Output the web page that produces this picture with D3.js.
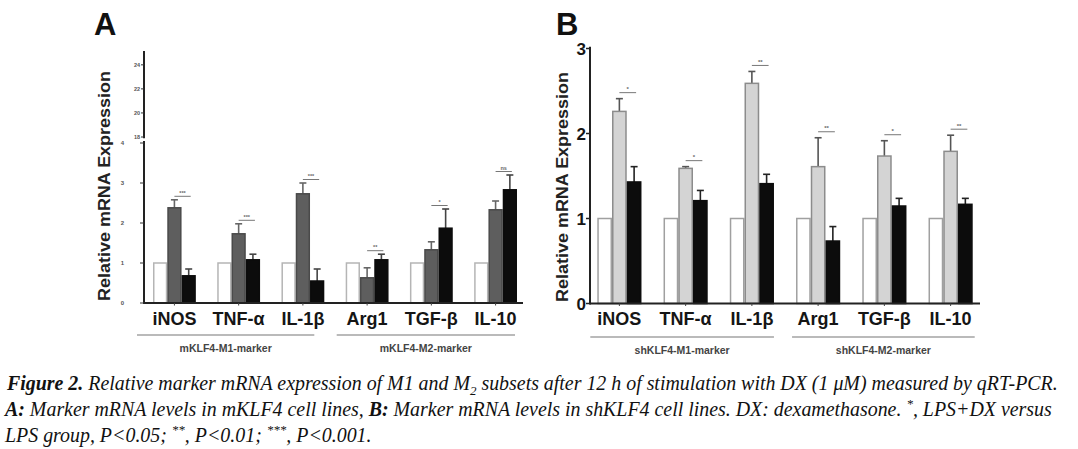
<!DOCTYPE html>
<html>
<head>
<meta charset="utf-8">
<script src="https://cdn.jsdelivr.net/npm/d3@7"></script>
<style>
  html, body { margin: 0; padding: 0; background: #fff; }
  svg { display: block; }
</style>
</head>
<body>
<svg id="chart" width="1078" height="449"></svg>
<script>
// ---------- data ----------
const categories = ["iNOS", "TNF-α", "IL-1β", "Arg1", "TGF-β", "IL-10"];
const seriesNames = ["Control", "LPS", "LPS+DX"];

// Panel A (mKLF4)
const ctrlA   = [1, 1, 1, 1, 1, 1];
const lpsA    = [2.38, 1.73, 2.73, 0.63, 1.33, 2.33];
const lpsErrA = [0.20, 0.25, 0.27, 0.25, 0.20, 0.22];
const dxA     = [0.68, 1.08, 0.55, 1.08, 1.87, 2.83];
const dxErrA  = [0.17, 0.14, 0.30, 0.14, 0.48, 0.37];
const sigA    = ["***", "***", "***", "**", "*", "ns"];
const yTicksA_low  = [0, 1, 2, 3, 4];
const yTicksA_high = [18, 20, 22, 24];
const groupLabelsA = ["mKLF4-M1-marker", "mKLF4-M2-marker"];

// Panel B (shKLF4)
const ctrlB   = [1, 1, 1, 1, 1, 1];
const lpsB    = [2.26, 1.59, 2.59, 1.61, 1.735, 1.79];
const lpsErrB = [0.15, 0.02, 0.14, 0.34, 0.18, 0.19];
const dxB     = [1.43, 1.21, 1.41, 0.735, 1.147, 1.167];
const dxErrB  = [0.18, 0.12, 0.11, 0.17, 0.09, 0.07];
const sigB    = ["*", "*", "**", "**", "*", "**"];
const yTicksB = [0, 1, 2, 3];
const groupLabelsB = ["shKLF4-M1-marker", "shKLF4-M2-marker"];

const yLabel = "Relative mRNA Expression";

// ---------- drawing ----------
const svg = d3.select("#chart");
svg.append("rect").attr("width", 1078).attr("height", 449).attr("fill", "#fff");

function panel(opts) {
  const g = svg.append("g");
  const x = d3.scaleBand().domain(categories)
    .range(opts.xRange).paddingInner(0.333).paddingOuter(opts.padOuter);
  const sub = d3.scaleBand().domain(seriesNames).range([0, x.bandwidth()]);
  const y = opts.y;
  const rows = categories.map((c, i) => ({
    cat: c,
    vals: [
      { s: "Control", v: opts.ctrl[i], e: 0 },
      { s: "LPS", v: opts.lps[i], e: opts.lpsErr[i] },
      { s: "LPS+DX", v: opts.dx[i], e: opts.dxErr[i] }
    ],
    sig: opts.sig[i]
  }));

  const grp = g.selectAll("g.cat").data(rows).join("g")
    .attr("transform", d => `translate(${x(d.cat)},0)`);

  // error bars (upper only)
  grp.selectAll("g.err").data(d => d.vals.filter(v => v.e > 0)).join("g")
    .each(function (d) {
      const cx = sub(d.s) + sub.bandwidth() / 2;
      const sel = d3.select(this);
      const col = d.s === "LPS" ? opts.errLps : opts.errDx;
      sel.append("line").attr("x1", cx).attr("x2", cx)
        .attr("y1", y(d.v)).attr("y2", y(d.v + d.e))
        .attr("stroke", col).attr("stroke-width", 1.6);
      sel.append("line").attr("x1", cx - 3.5).attr("x2", cx + 3.5)
        .attr("y1", y(d.v + d.e)).attr("y2", y(d.v + d.e))
        .attr("stroke", col).attr("stroke-width", 1.6);
    });

  // bars
  grp.selectAll("rect").data(d => d.vals).join("rect")
    .attr("x", d => sub(d.s) + 0.75)
    .attr("width", sub.bandwidth() - 1.5)
    .attr("y", d => y(d.v))
    .attr("height", d => y(0) - y(d.v))
    .attr("fill", d => opts.fill[d.s])
    .attr("stroke", d => opts.stroke[d.s])
    .attr("stroke-width", 1.5);

  // significance marks
  grp.each(function (d) {
    const top = Math.max(d.vals[1].v + d.vals[1].e, d.vals[2].v + d.vals[2].e);
    const ly = y(top) - opts.sigGap;
    const x1 = sub("LPS") + sub.bandwidth() / 2;
    const x2 = sub("LPS+DX") + sub.bandwidth() / 2 + 2;
    const sel = d3.select(this);
    sel.append("line").attr("x1", x1).attr("x2", x2).attr("y1", ly).attr("y2", ly)
      .attr("stroke", "#777").attr("stroke-width", 1);
    sel.append("text").attr("x", (x1 + x2) / 2).attr("y", ly - 1.5)
      .attr("text-anchor", "middle").attr("font-family", "Liberation Sans, Arial, sans-serif")
      .attr("font-size", opts.sigSize).attr("font-weight", "bold").attr("fill", "#666")
      .text(d.sig);
  });

  // x axis baseline
  const base = y(0);
  g.append("line").attr("x1", opts.xRange[0]).attr("x2", opts.axisEnd)
    .attr("y1", base).attr("y2", base).attr("stroke", "#222").attr("stroke-width", 2);
  // small ticks under group centers
  g.selectAll("line.xt").data(categories).join("line")
    .attr("x1", d => x(d) + x.bandwidth() / 2).attr("x2", d => x(d) + x.bandwidth() / 2)
    .attr("y1", base).attr("y2", base + 2.5).attr("stroke", "#444").attr("stroke-width", 1);

  // category labels
  g.selectAll("text.cat").data(categories).join("text")
    .attr("x", d => x(d) + x.bandwidth() / 2).attr("y", 325)
    .attr("text-anchor", "middle")
    .attr("font-family", "Liberation Sans, Arial, sans-serif")
    .attr("font-weight", "bold").attr("font-size", 18).attr("fill", "#151515")
    .text(d => d);

  // group lines and labels
  const groups = [[0, 2], [3, 5]];
  groups.forEach((gr, i) => {
    const xs = x(categories[gr[0]]) + opts.lineOff[i][0];
    const xe = x(categories[gr[1]]) + x.bandwidth() + opts.lineOff[i][1];
    g.append("line").attr("x1", xs).attr("x2", xe)
      .attr("y1", opts.lineY).attr("y2", opts.lineY).attr("stroke", "#777").attr("stroke-width", 1.2);
    g.append("text").attr("x", (xs + xe) / 2 + opts.labOff).attr("y", opts.lineY + 17)
      .attr("text-anchor", "middle")
      .attr("font-family", "Liberation Sans, Arial, sans-serif")
      .attr("font-weight", "bold").attr("font-size", 10.5).attr("fill", "#444")
      .text(opts.groupLabels[i]);
  });

  // y label
  g.append("text")
    .attr("transform", `translate(${opts.yLabelX},${opts.yLabelY}) rotate(-90)`)
    .attr("text-anchor", "middle")
    .attr("font-family", "Liberation Sans, Arial, sans-serif")
    .attr("font-weight", "bold").attr("font-size", 16).attr("fill", "#222")
    .attr("textLength", 230).attr("lengthAdjust", "spacingAndGlyphs")
    .text(yLabel);

  // panel letter
  g.append("text").attr("x", opts.letterX).attr("y", 35)
    .attr("font-family", "Liberation Sans, Arial, sans-serif")
    .attr("font-weight", "bold").attr("font-size", 31).attr("fill", "#111")
    .text(opts.letter);
  return { g, x, y };
}

// ---------- Panel A ----------
const yA = d3.scaleLinear().domain([0, 4]).range([303, 143]);
const yAhigh = d3.scaleLinear().domain([18, 25.15]).range([137, 51]);
const pA = panel({
  xRange: [144, 526], padOuter: 0.14, axisEnd: 523,
  y: yA, ctrl: ctrlA, lps: lpsA, lpsErr: lpsErrA, dx: dxA, dxErr: dxErrA, sig: sigA,
  fill: { "Control": "#ffffff", "LPS": "#5e5e5e", "LPS+DX": "#0c0c0c" },
  stroke: { "Control": "#b5b5b5", "LPS": "#4a4a4a", "LPS+DX": "#0c0c0c" },
  errLps: "#666", errDx: "#444", sigGap: 3.5, sigSize: 5.5,
  lineY: 335, lineOff: [[-16, -10], [-9, -2]], labOff: 0, groupLabels: groupLabelsA,
  yLabelX: 110, yLabelY: 186, letter: "A", letterX: 94
});
// Panel A broken y axis
{
  const g = pA.g;
  const ax = 144;
  g.append("line").attr("x1", ax).attr("x2", ax).attr("y1", yA(0) + 1).attr("y2", yA(4.05))
    .attr("stroke", "#222").attr("stroke-width", 2);
  g.append("line").attr("x1", ax).attr("x2", ax).attr("y1", yAhigh(17.9)).attr("y2", yAhigh(25.15))
    .attr("stroke", "#222").attr("stroke-width", 2);
  g.selectAll("line.yl").data(yTicksA_low).join("line")
    .attr("x1", ax - 4).attr("x2", ax).attr("y1", d => yA(d)).attr("y2", d => yA(d))
    .attr("stroke", "#333").attr("stroke-width", 1);
  g.selectAll("text.yl").data(yTicksA_low).join("text")
    .attr("x", 124).attr("y", d => yA(d) + 2).attr("text-anchor", "end")
    .attr("font-family", "Liberation Sans, Arial, sans-serif").attr("font-size", 6)
    .attr("font-weight", "bold").attr("fill", "#555").text(d => d);
  g.selectAll("line.yh").data(yTicksA_high).join("line")
    .attr("x1", ax - 3).attr("x2", ax).attr("y1", d => yAhigh(d)).attr("y2", d => yAhigh(d))
    .attr("stroke", "#333").attr("stroke-width", 1);
  g.selectAll("text.yh").data(yTicksA_high).join("text")
    .attr("x", ax - 4).attr("y", d => yAhigh(d) + 2).attr("text-anchor", "end")
    .attr("font-family", "Liberation Sans, Arial, sans-serif").attr("font-size", 5.5)
    .attr("font-weight", "bold").attr("fill", "#555").text(d => d);
}

// ---------- Panel B ----------
const yB = d3.scaleLinear().domain([0, 3]).range([303.5, 48.5]);
const pB = panel({
  xRange: [590, 980], padOuter: 0.11, axisEnd: 980,
  y: yB, ctrl: ctrlB, lps: lpsB, lpsErr: lpsErrB, dx: dxB, dxErr: dxErrB, sig: sigB,
  fill: { "Control": "#ffffff", "LPS": "#d4d4d4", "LPS+DX": "#0c0c0c" },
  stroke: { "Control": "#a0a0a0", "LPS": "#8c8c8c", "LPS+DX": "#0c0c0c" },
  errLps: "#555", errDx: "#222", sigGap: 6, sigSize: 6,
  lineY: 337, lineOff: [[-7, 0], [-4, 2]], labOff: 0, groupLabels: groupLabelsB,
  yLabelX: 568, yLabelY: 187, letter: "B", letterX: 556
});
{
  const g = pB.g;
  const ax = 590;
  g.append("line").attr("x1", ax).attr("x2", ax).attr("y1", yB(0) + 1).attr("y2", yB(3.02))
    .attr("stroke", "#222").attr("stroke-width", 2);
  g.selectAll("line.yt").data(yTicksB).join("line")
    .attr("x1", ax - 4).attr("x2", ax).attr("y1", d => yB(d)).attr("y2", d => yB(d))
    .attr("stroke", "#222").attr("stroke-width", 1.5);
  g.selectAll("text.yt").data(yTicksB).join("text")
    .attr("x", ax - 4).attr("y", d => yB(d) + 6).attr("text-anchor", "end")
    .attr("font-family", "Liberation Sans, Arial, sans-serif").attr("font-size", 17)
    .attr("font-weight", "bold").attr("fill", "#151515").text(d => d);
}

// ---------- Caption ----------
const cap = svg.append("text")
  .attr("font-family", "Liberation Serif, Times New Roman, serif")
  .attr("font-style", "italic").attr("font-size", 19.9).attr("fill", "#111");
const l1 = cap.append("tspan").attr("x", 7).attr("y", 390);
l1.append("tspan").attr("font-weight", "bold").text("Figure 2.");
l1.append("tspan").text(" Relative marker mRNA expression of M1 and M");
l1.append("tspan").attr("font-size", 13).attr("dy", 5).text("2");
l1.append("tspan").attr("dy", -5).text(" subsets after 12 h of stimulation with DX (1 μM) measured by qRT-PCR.");
const l2 = cap.append("tspan").attr("x", 5).attr("y", 416);
l2.append("tspan").attr("font-weight", "bold").text("A:");
l2.append("tspan").text(" Marker mRNA levels in mKLF4 cell lines, ");
l2.append("tspan").attr("font-weight", "bold").text("B:");
l2.append("tspan").text(" Marker mRNA levels in shKLF4 cell lines. DX: dexamethasone. ");
l2.append("tspan").attr("font-size", 13).attr("dy", -8).text("*");
l2.append("tspan").attr("dy", 8).text(", LPS+DX versus");
const l3 = cap.append("tspan").attr("x", 5).attr("y", 442);
l3.append("tspan").text("LPS group, P<0.05; ");
l3.append("tspan").attr("font-size", 13).attr("dy", -8).text("**");
l3.append("tspan").attr("dy", 8).text(", P<0.01; ");
l3.append("tspan").attr("font-size", 13).attr("dy", -8).text("***");
l3.append("tspan").attr("dy", 8).text(", P<0.001.");
</script>
</body>
</html>
